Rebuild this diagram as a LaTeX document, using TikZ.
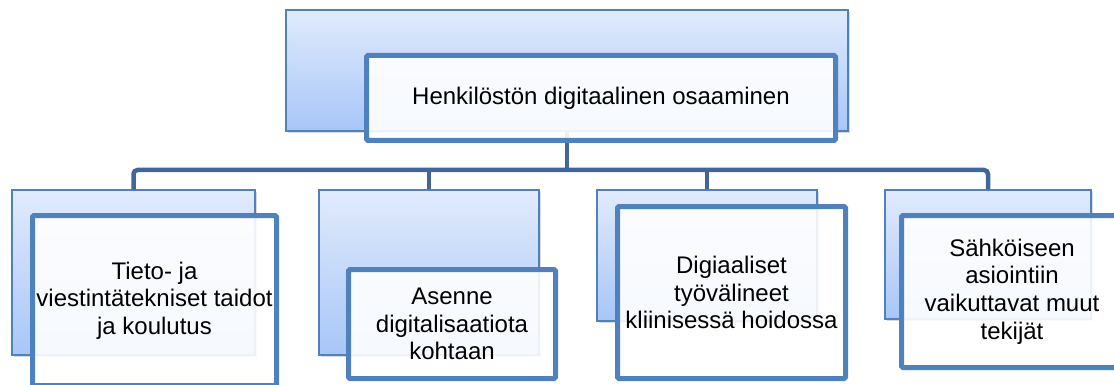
\documentclass[tikz,border=0pt]{standalone}
\usepackage{fontspec}
\setmainfont{Liberation Sans}
\usetikzlibrary{shadows}
\definecolor{boxline}{HTML}{4F81BD}
\definecolor{connline}{HTML}{41679A}
\definecolor{backtop}{HTML}{E1EBFC}
\definecolor{backbot}{HTML}{A7C6F8}
\tikzset{
    backbox/.style={draw=boxline, line width=1.5pt, inner sep=0pt,
                    top color=backtop, bottom color=backbot,
                    drop shadow={shadow xshift=2pt, shadow yshift=-2pt, opacity=0.3}},
    frontbox/.style={draw=boxline, line width=5pt, rounded corners=1.5pt,
                     fill=white, fill opacity=0.9, text opacity=1,
                     align=center, inner sep=0pt,
                     font=\fontsize{24}{27.6}\selectfont},
    connector/.style={draw=connline, line width=4.5pt, rounded corners=4pt}
}
\begin{document}
\begin{tikzpicture}[x=1pt,y=-1pt]
            \useasboundingbox (0,0) rectangle (1114,385);
            \clip (0,0) rectangle (1114,385);
            % back boxes
            \node[backbox, minimum width=562pt, minimum height=121pt] (topback) at (567,70.5) {};
            \node[backbox, minimum width=243pt, minimum height=165pt] (b1back) at (133.5,272.5) {};
            \node[backbox, minimum width=220pt, minimum height=165pt] (b2back) at (429,272.5) {};
            \node[backbox, minimum width=220pt, minimum height=131pt] (b3back) at (707,255.5) {};
            \node[backbox, minimum width=206pt, minimum height=129pt] (b4back) at (988,254.5) {};
            % connectors
            \coordinate (bar) at (567,170);
            \draw[connector] (topback.south) -- (topback.south |- bar);
            \draw[connector] (b1back.north) |- (bar) -| (b4back.north);
            \draw[connector] (b2back.north) -- (b2back.north |- bar);
            \draw[connector] (b3back.north) -- (b3back.north |- bar);
            % front boxes
            \node[frontbox, minimum width=469pt, minimum height=85pt] (topfront) at (601,98)
                {Henkilöstön digitaalinen osaaminen};
            \node[frontbox, minimum width=244pt, minimum height=170pt] (b1front) at (154.5,300.5)
                {Tieto- ja\\viestintätekniset taidot\\ja koulutus};
            \node[frontbox, minimum width=207pt, minimum height=109pt] (b2front) at (452,324)
                {Asenne\\digitalisaatiota\\kohtaan};
            \node[frontbox, minimum width=228pt, minimum height=172pt] (b3front) at (731.5,292.5)
                {Digiaaliset\\työvälineet\\kliinisessä hoidossa};
            \node[frontbox, minimum width=221pt, minimum height=152pt] (b4front) at (1012,291.5)
                {Sähköiseen\\asiointiin\\vaikuttavat muut\\tekijät};
\end{tikzpicture}
\end{document}
